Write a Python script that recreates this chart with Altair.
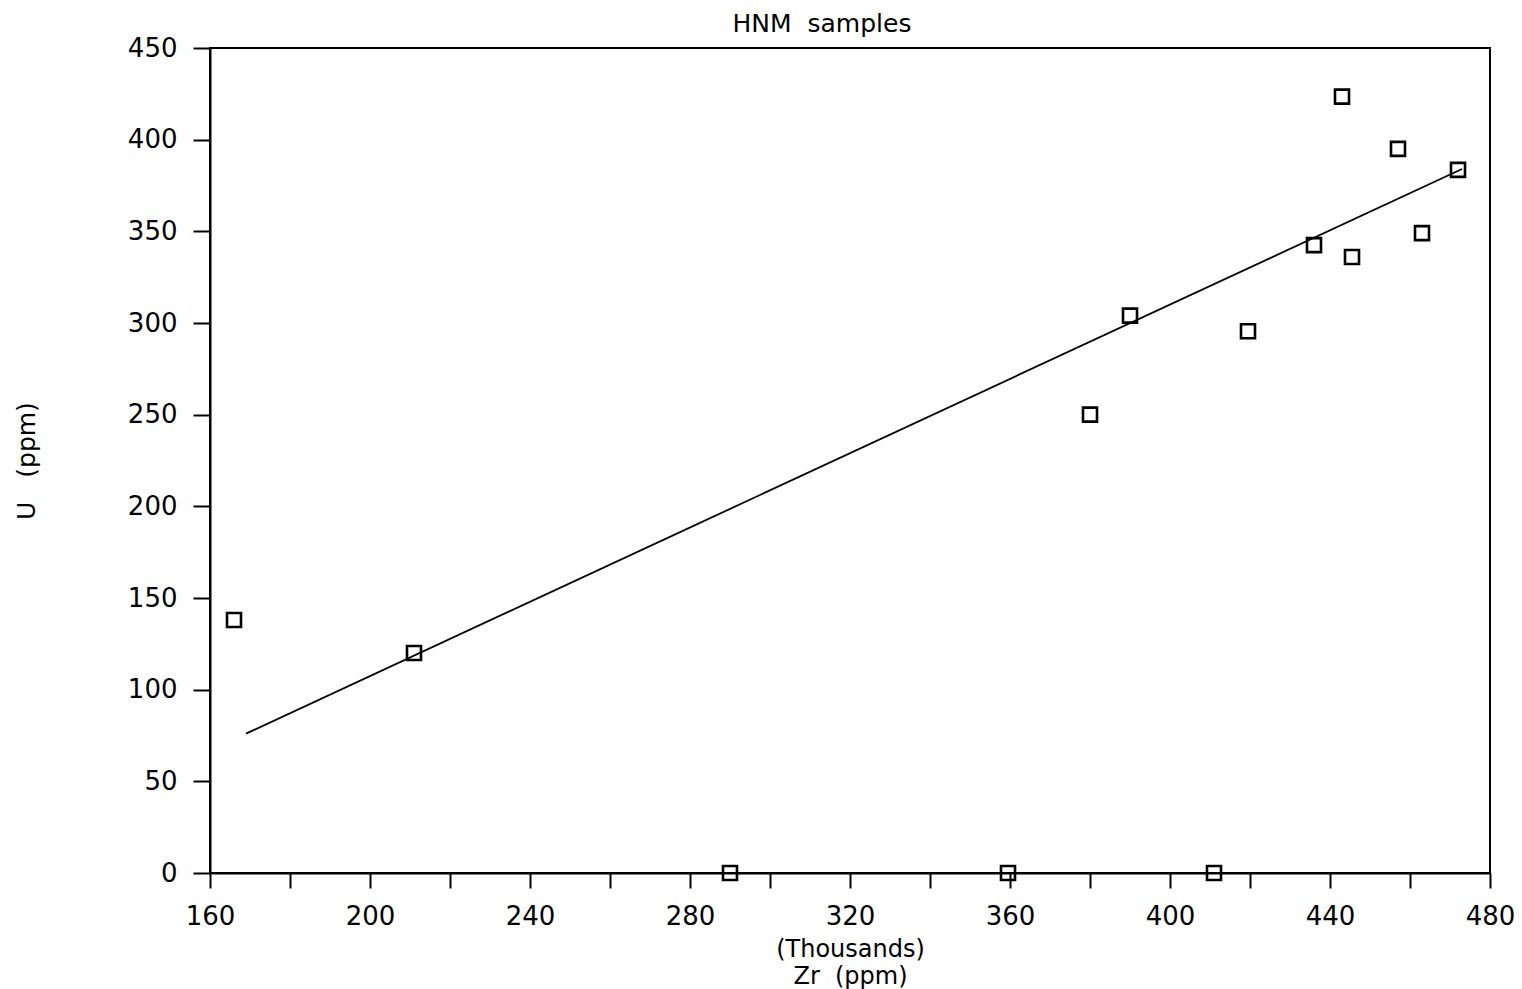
import altair as alt
import pandas as pd

# Sample data (Zr in thousands of ppm, U in ppm)
zr = [166, 211, 290, 359.5, 411, 380, 390, 419.5, 443, 457, 472, 436, 463, 445.5]
u = [138, 120, 0, 0, 0, 250, 304, 295.5, 423.5, 395, 383.5, 342.5, 349, 336]

# Fitted line end points as drawn
fit_zr = [169, 473]
fit_u = [76, 384]

x_ticks = [160, 180, 200, 220, 240, 260, 280, 300, 320, 340, 360, 380, 400, 420, 440, 460, 480]
y_ticks = [0, 50, 100, 150, 200, 250, 300, 350, 400, 450]

pts = pd.DataFrame({"zr": zr, "u": u})
fit = pd.DataFrame({"zr": fit_zr, "u": fit_u})

FONT = "DejaVu Sans"

xscale = alt.Scale(domain=[160, 480], nice=False, zero=False)
yscale = alt.Scale(domain=[0, 450], nice=False, zero=False)

xaxis = alt.Axis(
    values=x_ticks,
    labelExpr="datum.value % 40 == 0 ? datum.label : ''",
    title=["(Thousands)", "Zr\u00a0\u00a0(ppm)"],
    titleFontSize=24, titleFontWeight="normal", titleFont=FONT, titleColor="black",
    titleLineHeight=27, titlePadding=8,
    labelFont=FONT, labelFontSize=26, labelColor="black", labelPadding=15,
    tickSize=15, tickWidth=2, tickColor="black",
    domainColor="black", domainWidth=2, grid=False, labelFlush=False, labelOverlap=False,
)
yaxis = alt.Axis(
    values=y_ticks,
    title="U\u00a0\u00a0\u00a0(ppm)",
    titleFontSize=25, titleFontWeight="normal", titleFont=FONT, titleColor="black",
    titlePadding=88,
    labelFont=FONT, labelFontSize=26, labelColor="black", labelPadding=16,
    tickSize=17, tickWidth=2, tickColor="black",
    domainColor="black", domainWidth=2, grid=False, labelFlush=False, labelOverlap=False,
)

points = alt.Chart(pts).mark_point(
    shape="square", filled=False, size=196, strokeWidth=2.6, color="black", opacity=1
).encode(
    x=alt.X("zr:Q", scale=xscale, axis=xaxis),
    y=alt.Y("u:Q", scale=yscale, axis=yaxis),
)

line = alt.Chart(fit).mark_line(color="black", strokeWidth=1.8).encode(
    x=alt.X("zr:Q", scale=xscale),
    y=alt.Y("u:Q", scale=yscale),
)

chart = alt.layer(line, points).properties(
    width=1280,
    height=825,
    title=alt.TitleParams(
        "HNM\u00a0\u00a0samples", font=FONT, fontSize=25, fontWeight="normal",
        color="black", anchor="middle", dx=-28, offset=-2,
    ),
    autosize=alt.AutoSizeParams(type="none"),
    padding={"left": 202, "top": 40, "right": 24, "bottom": 116},
).configure_view(
    stroke="black", strokeWidth=2
)

chart.save("out.html", embed_options={"renderer": "svg", "actions": False})
